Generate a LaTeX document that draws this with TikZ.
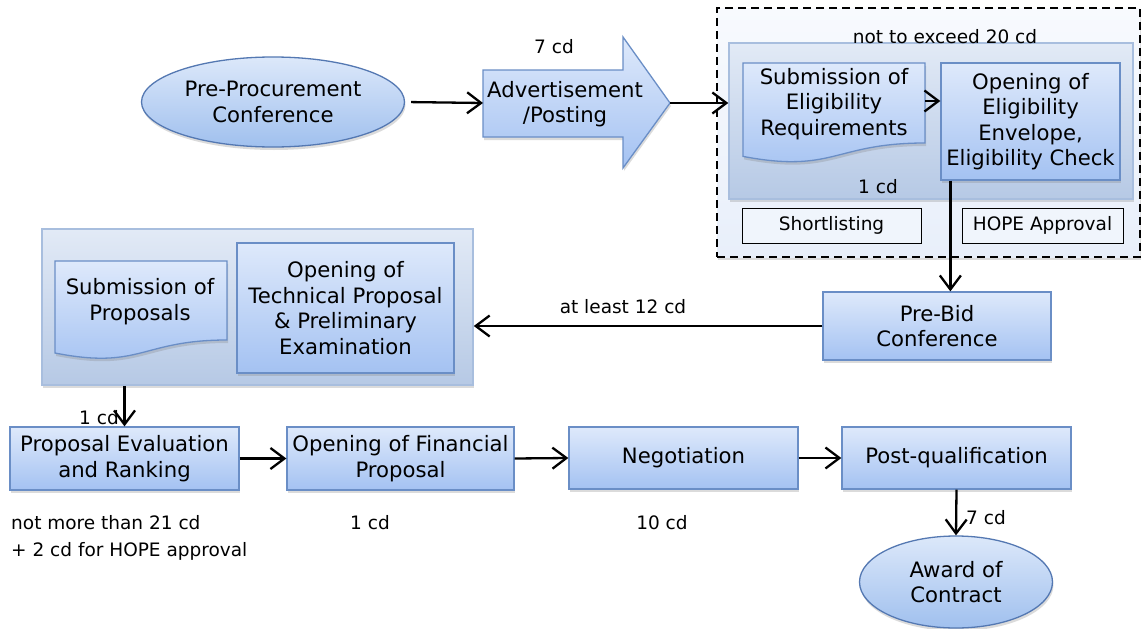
\documentclass[tikz,border=0pt]{standalone}
\usepackage{fontspec}
\setmainfont{DejaVu Sans}
\usetikzlibrary{shapes.geometric,arrows.meta,shadows,calc}

\definecolor{boxtop}{RGB}{222,233,251}
\definecolor{boxbot}{RGB}{164,194,242}
\definecolor{boxline}{RGB}{106,142,198}
\definecolor{elltop}{RGB}{220,232,250}
\definecolor{ellbot}{RGB}{160,192,238}
\definecolor{ellline}{RGB}{84,120,178}
\definecolor{grptop}{RGB}{226,234,246}
\definecolor{grpbot}{RGB}{182,201,229}
\definecolor{grpline}{RGB}{168,190,222}
\definecolor{outtop}{RGB}{248,250,254}
\definecolor{outbot}{RGB}{232,239,250}
\definecolor{tagfill}{RGB}{240,245,252}

\newcommand{\bigtxt}{\fontsize{21.2}{25.5}\selectfont}
\newcommand{\smalltxt}{\fontsize{18.5}{28}\selectfont}

\begin{document}
\begin{tikzpicture}[x=1pt,y=-1pt,
  softshadow/.style={drop shadow={opacity=0.28,shadow xshift=1pt,shadow yshift=-3pt}},
  box/.style={rectangle, draw=boxline, line width=1.3pt, top color=boxtop, bottom color=boxbot,
    softshadow, align=center, inner sep=0pt, font=\bigtxt},
  oval/.style={ellipse, draw=ellline, line width=1.3pt, top color=elltop, bottom color=ellbot,
    softshadow, align=center, inner sep=0pt, font=\bigtxt},
  group/.style={rectangle, draw=grpline, line width=1.5pt, top color=grptop, bottom color=grpbot,
    softshadow, inner sep=0pt},
  doc/.style={draw=boxline, line width=1.3pt, top color=boxtop, bottom color=boxbot, softshadow},
  doctext/.style={align=center, font=\bigtxt, inner sep=0pt},
  tag/.style={rectangle, draw=black, line width=1pt, fill=tagfill, font=\smalltxt, inner sep=0pt},
  lbl/.style={font=\smalltxt, inner sep=0pt},
  flow/.style={line width=2.3pt, -{Straight Barb[length=14pt,width=21pt]}}]

\useasboundingbox (0,0) rectangle (1146,629);
\fill[white] (0,0) rectangle (1146,629);

% ---- eligibility stage ----
\node[rectangle, draw=black, dash pattern=on 8pt off 5pt, line width=1.8pt,
      top color=outtop, bottom color=outbot, softshadow,
      minimum width=423, minimum height=249, inner sep=0pt] (frame) at (928.5,132.5) {};
\node[group, minimum width=404, minimum height=156] (grpE) at (931,121) {};
\path[doc] (743,63) -- (925,63) -- (925,143) .. controls (834,143) and (834,173.7) .. (743,156.4) -- cycle;
\node[doctext, minimum width=182, minimum height=80] (subE) at (834,104)
  {Submission of\\Eligibility\\Requirements};
\node[box, minimum width=179, minimum height=117] (openE) at (1030.5,121.5)
  {Opening of\\Eligibility\\Envelope,\\Eligibility Check};
\node[lbl] (cap20) at (945,37) {not to exceed 20 cd};
\node[lbl] (oneE) at (878,187) {1 cd};
\node[tag, minimum width=179, minimum height=35] (short) at (831.5,225.5) {Shortlisting};
\node[tag, minimum width=161, minimum height=35] (hope) at (1042.5,225.5) {HOPE Approval};

% ---- start ----
\node[oval, minimum width=263, minimum height=90] (pre) at (273,102) {Pre-Procurement\\Conference};

% ---- advertisement block arrow ----
\path[doc] (483,70) -- (623,70) -- (623,37) -- (670,103) -- (623,168) -- (623,137) -- (483,137) -- cycle;
\coordinate (advIn) at (483,103);
\coordinate (advTip) at (670,103);
\node[doctext] (adv) at (565,104) {Advertisement\\/Posting};
\node[lbl] (sevenA) at (554,47) {7 cd};

% ---- pre-bid ----
\node[box, minimum width=228, minimum height=68] (preBid) at (937,326) {Pre-Bid\\Conference};

% ---- proposals stage ----
\node[group, minimum width=431, minimum height=156] (grpP) at (257.5,307) {};
\path[doc] (55,261) -- (227,261) -- (227,340) .. controls (141,340) and (141,370) .. (55,353) -- cycle;
\node[doctext, minimum width=172, minimum height=60] (subP) at (140,301.5) {Submission of\\Proposals};
\node[box, minimum width=217, minimum height=130] (openT) at (345.5,308)
  {Opening of\\Technical Proposal\\\& Preliminary\\Examination};
\node[lbl] (least) at (623,307) {at least 12 cd};

% ---- bottom row ----
\node[box, minimum width=229, minimum height=63] (PE) at (124.5,458.5) {Proposal Evaluation\\and Ranking};
\node[box, minimum width=227, minimum height=63] (OF) at (400.5,458.5) {Opening of Financial\\Proposal};
\node[box, minimum width=229, minimum height=62] (Neg) at (683.5,458) {Negotiation};
\node[box, minimum width=229, minimum height=62] (PQ) at (956.5,458) {Post-qualification};
\node[oval, minimum width=193, minimum height=92] (award) at (956,582) {Award of\\Contract};

\node[lbl] (onePE) at (99,418) {1 cd};
\node[lbl, anchor=west] (limit1) at (11,523) {not more than 21 cd};
\node[lbl, anchor=west] (limit2) at (11,551) {+ 2 cd for HOPE approval};
\node[lbl] (oneOF) at (370,523) {1 cd};
\node[lbl] (tenNeg) at (662,523) {10 cd};
\node[lbl, anchor=west] (sevenPQ) at (966,518) {7 cd};

% ---- connectors ----
\draw[flow, shorten <=6pt] (pre.east) -- (advIn);
\draw[flow] (advTip) -- (advTip -| grpE.west);
\draw[flow] ([yshift=3pt]subE.east) -- ([yshift=3pt]subE.east -| openE.west);
\coordinate (dn) at ([xshift=10pt]openE.south west);
\draw[flow] (dn) -- (dn |- preBid.north);
\draw[flow] (preBid.west) -- (preBid.west -| grpP.east);
\draw[flow] (PE.north |- grpP.south) -- (PE.north);
\draw[flow] (PE.east) -- (OF.west);
\draw[flow] (OF.east) -- (Neg.west);
\draw[flow] (Neg.east) -- (PQ.west);
\draw[flow] (PQ.south) -- (award.north);

\end{tikzpicture}
\end{document}
